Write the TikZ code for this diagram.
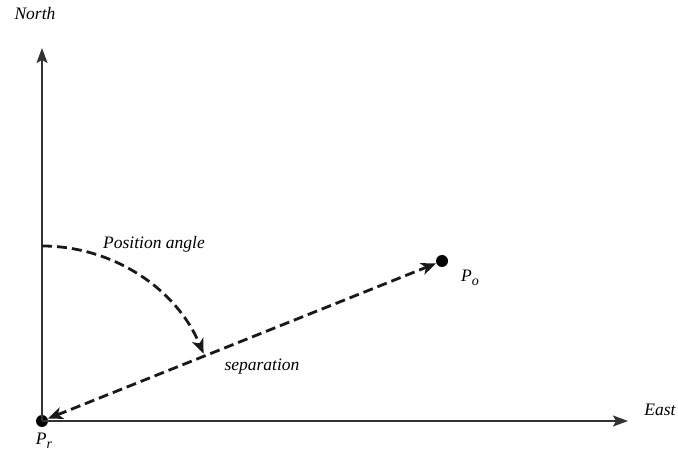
\documentclass[tikz,border=0pt]{standalone}
\usepackage{fontspec}
\setmainfont{Liberation Serif}
\usepackage{tikz}
\usetikzlibrary{arrows.meta, calc, positioning}

\newcommand{\lowsub}[1]{\raisebox{-0.45ex}{\fontsize{14}{16}\selectfont #1}}

\begin{document}
\begin{tikzpicture}[x=1pt,y=1pt,
  font=\fontsize{17.5}{20}\selectfont\itshape,
  axis/.style={line width=1.6pt, black!80, -{Stealth[length=15pt,width=11pt,inset=3pt]}},
  sepline/.style={line width=2.8pt, black!90, dash pattern=on 10pt off 5pt},
  ptip/.tip={Stealth[length=15pt,width=12pt,inset=4pt]},
  dot/.style={circle, fill=black, inner sep=0pt, minimum size=12pt}]
\useasboundingbox (0,0) rectangle (678,458);

% Points
\node[dot] (Pr) at (42,37) {};
\node[dot] (Po) at (442,197) {};
\coordinate (N) at (42,410);
\coordinate (E) at (628,37);
\coordinate (A) at (42,212);

% Axes
\draw[axis] (Pr.center) -- (N);
\draw[axis] (Pr.center) -- (E);

% Separation and angle
\draw[sepline, ptip-ptip] (Pr) -- (Po);
\draw[sepline, -ptip] (A) arc[start angle=90, end angle=22.6, radius=175];

% Labels
\node (north) at (35,444) {North};
\node (east) at (660,48) {East};
\node (pa) at (154,214) {Position angle};
\node (sep) at (262,91) {separation};
\node (lr) at (44,17) {P\lowsub{r}};
\node (lo) at (470,180) {P\lowsub{o}};
\end{tikzpicture}
\end{document}
